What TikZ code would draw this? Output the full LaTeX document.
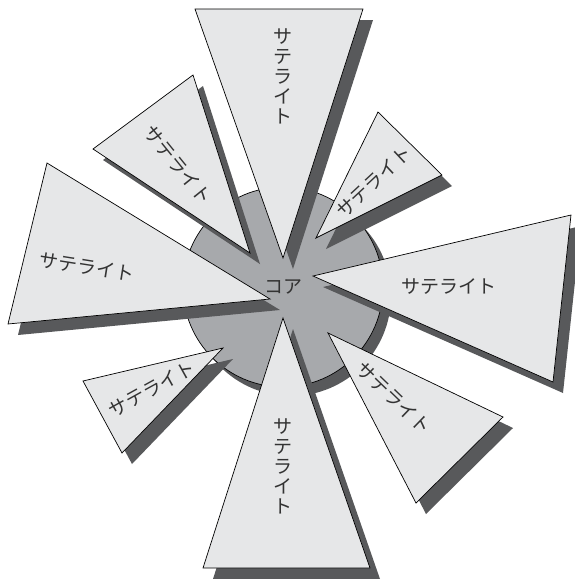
\documentclass[tikz,border=0pt]{standalone}
\usepackage{fontspec}
\newfontfamily\jpfont{Noto Sans CJK JP}
\definecolor{satfill}{HTML}{E6E7E8}
\definecolor{coregray}{HTML}{A7A9AC}
\definecolor{shadowgray}{HTML}{58595B}

\begin{document}
\begin{tikzpicture}[
    x=1pt, y=-1pt,
    sat/.style={draw=black, line width=0.7pt, fill=satfill},
    dropshadow/.style={fill=shadowgray},
    label/.style={font=\jpfont\fontsize{19}{20}\selectfont, text=black!80,
                  inner sep=0pt, align=center}
]
\useasboundingbox (0,0) rectangle (575,579);

% Core
\coordinate (core) at (283,287);
\fill[dropshadow] ([shift={(8,9)}]core) circle[radius=100];
\draw[line width=0.7pt, fill=coregray] (core) circle[radius=100];

% Satellites (tip first)
\coordinate (top-a) at (283,258); \coordinate (top-b) at (195,9);   \coordinate (top-c) at (363,9);
\coordinate (ul-a) at (250,253);  \coordinate (ul-b) at (93,149);   \coordinate (ul-c) at (193,75);
\coordinate (left-a) at (270,299);\coordinate (left-b) at (47,163); \coordinate (left-c) at (8,324);
\coordinate (ll-a) at (223,348);  \coordinate (ll-b) at (83,381);   \coordinate (ll-c) at (122,453);
\coordinate (bot-a) at (283,318); \coordinate (bot-b) at (203,568); \coordinate (bot-c) at (370,568);
\coordinate (lr-a) at (328,333);  \coordinate (lr-b) at (503,417);  \coordinate (lr-c) at (416,503);
\coordinate (right-a) at (313,276);\coordinate (right-b) at (571,215);\coordinate (right-c) at (553,382);
\coordinate (ur-a) at (316,238);  \coordinate (ur-b) at (378,112);  \coordinate (ur-c) at (442,175);

% Shadows
\foreach \s in {top,ul,left,ll,bot,lr,right,ur}
  \fill[dropshadow] ([shift={(10,11)}]\s-a) -- ([shift={(10,11)}]\s-b)
        -- ([shift={(10,11)}]\s-c) -- cycle;

% Triangles
\foreach \s in {top,ul,left,ll,bot,lr,right,ur}
  \draw[sat] (\s-a) -- (\s-b) -- (\s-c) -- cycle;

% Labels
\node[label] (coreLabel) at (core) {コア};
\node[label] (satTop) at (283,76) {サ\\テ\\ラ\\イ\\ト};
\node[label, rotate=-51] (satUL) at (178,165) {サテライト};
\node[label, rotate=-9] (satLeft) at (87,267) {サテライト};
\node[label, rotate=29] (satLL) at (152,389) {サテライト};
\node[label] (satBot) at (283,466) {サ\\テ\\ラ\\イ\\ト};
\node[label, rotate=-44] (satLR) at (394,398) {サテライト};
\node[label] (satRight) at (449,287) {サテライト};
\node[label, rotate=43] (satUR) at (374,182) {サテライト};
\end{tikzpicture}
\end{document}
